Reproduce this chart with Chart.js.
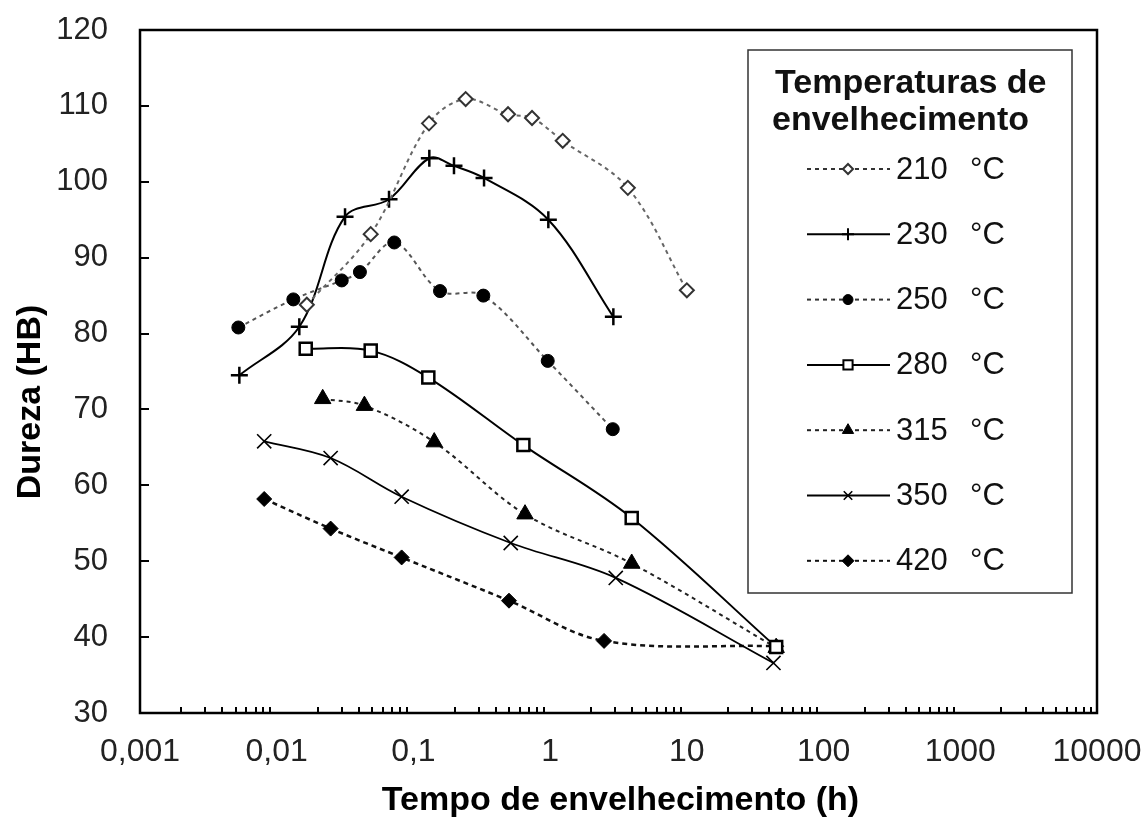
<!DOCTYPE html>
<html><head><meta charset="utf-8">
<script src="https://cdn.jsdelivr.net/npm/chart.js@4/dist/chart.umd.min.js"></script>
<style>html,body{margin:0;padding:0;background:#fff;}</style>
</head><body>
<canvas id="c" width="1147" height="822"></canvas>
<script>
// ---- data (time in hours, hardness HB) ----
const seriesNames = ['210', '230', '250', '280', '315', '350', '420'];
const t210 = [0.0166, 0.0487, 0.130, 0.241, 0.492, 0.737, 1.236, 3.70, 10.0];
const h210 = [83.8, 93.1, 107.7, 110.9, 108.9, 108.4, 105.4, 99.2, 85.7];
const t230 = [0.00533, 0.01463, 0.0316, 0.0663, 0.1307, 0.198, 0.3285, 0.97, 2.90];
const h230 = [74.5, 80.9, 95.4, 97.7, 103.1, 102.1, 100.5, 95.0, 82.2];
const t250 = [0.00524, 0.01323, 0.0299, 0.0406, 0.0724, 0.1565, 0.3246, 0.96, 2.87];
const h250 = [80.8, 84.5, 87.0, 88.1, 92.0, 85.6, 85.0, 76.4, 67.4];
const t280 = [0.0163, 0.0487, 0.1285, 0.637, 3.95, 45];
const h280 = [78.0, 77.75, 74.2, 65.3, 55.7, 38.7];
const t315 = [0.0217, 0.0438, 0.142, 0.655, 3.95, 45];
const h315 = [71.4, 70.5, 65.7, 56.2, 49.7, 38.6];
const t350 = [0.0081, 0.0248, 0.082, 0.515, 3.02, 43];
const h350 = [65.8, 63.6, 58.5, 52.4, 47.8, 36.6];
const t420 = [0.0081, 0.0248, 0.082, 0.5, 2.48, 45];
const h420 = [58.2, 54.3, 50.5, 44.8, 39.5, 38.8];
const xTickLabels = ['0,001', '0,01', '0,1', '1', '10', '100', '1000', '10000'];
const yMin = 30, yMax = 120, yStep = 10;
const legendTitle = ['Temperaturas de', 'envelhecimento'];
const unitLabel = '°C';
const xTitle = 'Tempo de envelhecimento (h)';
const yTitle = 'Dureza (HB)';

const FONT = "'Liberation Sans', Arial, sans-serif";
const pts = (t, h) => t.map((v, i) => ({x: v, y: h[i]}));

const styles = [
  {ps: 'rectRot', r: 7, bg: '#fff', bc: '#333', bw: 2, lc: '#666', dash: [4, 4], lw: 2, lr: 5},
  {ps: 'cross', r: 8.5, bg: '#000', bc: '#000', bw: 2.5, lc: '#000', dash: [], lw: 2, lr: 6},
  {ps: 'circle', r: 6.5, bg: '#000', bc: '#000', bw: 1, lc: '#555', dash: [4, 4], lw: 2, lr: 5},
  {ps: 'rect', r: 8.5, bg: '#fff', bc: '#000', bw: 2.5, lc: '#000', dash: [], lw: 2, lr: 6.5},
  {ps: 'triangle', r: 9.5, bg: '#000', bc: '#000', bw: 1, lc: '#222', dash: [4, 4], lw: 2, lr: 6.5},
  {ps: 'crossRot', r: 10, bg: '#000', bc: '#000', bw: 1.6, lc: '#000', dash: [], lw: 1.8, lr: 6},
  {ps: 'rectRot', r: 7.5, bg: '#000', bc: '#000', bw: 1, lc: '#111', dash: [5, 4], lw: 2.5, lr: 6}
];
const dataSets = [[t210, h210], [t230, h230], [t250, h250], [t280, h280], [t315, h315], [t350, h350], [t420, h420]];

const datasets = dataSets.map((d, i) => {
  const s = styles[i];
  return {
    label: seriesNames[i] + ' ' + unitLabel,
    data: pts(d[0], d[1]),
    borderColor: s.lc,
    borderWidth: s.lw,
    borderDash: s.dash,
    tension: 0.35,
    fill: false,
    pointStyle: s.ps,
    pointRadius: s.r,
    pointBackgroundColor: s.bg,
    pointBorderColor: s.bc,
    pointBorderWidth: s.bw,
    pointHoverRadius: s.r
  };
});

const decor = {
  id: 'decor',
  afterDraw(chart) {
    const ctx = chart.ctx, a = chart.chartArea;
    const xs = chart.scales.x, ys = chart.scales.y;
    ctx.save();
    ctx.setLineDash([]);
    ctx.strokeStyle = '#000';
    // minor x ticks (inside, upward)
    ctx.lineWidth = 2;
    for (let e = -3; e < 4; e++) {
      for (let d = 2; d <= 9; d++) {
        const px = Math.round(xs.getPixelForValue(d * Math.pow(10, e)));
        ctx.beginPath(); ctx.moveTo(px, a.bottom); ctx.lineTo(px, a.bottom - 6); ctx.stroke();
      }
    }
    // y ticks (inside)
    for (let v = yMin + yStep; v < yMax; v += yStep) {
      const py = Math.round(ys.getPixelForValue(v));
      ctx.beginPath(); ctx.moveTo(a.left, py); ctx.lineTo(a.left + 9, py); ctx.stroke();
    }
    // frame
    ctx.lineWidth = 2.5;
    ctx.strokeRect(a.left, a.top, a.right - a.left, a.bottom - a.top);

    // axis titles
    ctx.fillStyle = '#000';
    ctx.font = 'bold 34px ' + FONT;
    ctx.textAlign = 'center';
    ctx.textBaseline = 'alphabetic';
    ctx.fillText(xTitle, (a.left + a.right) / 2 + 2, 810);
    ctx.save();
    ctx.translate(40, 402);
    ctx.rotate(-Math.PI / 2);
    ctx.fillText(yTitle, 0, 0);
    ctx.restore();

    // legend
    const bx = 748, by = 50, bw = 324, bh = 543;
    ctx.fillStyle = '#fff';
    ctx.fillRect(bx, by, bw, bh);
    ctx.strokeStyle = '#333';
    ctx.lineWidth = 1.5;
    ctx.strokeRect(bx, by, bw, bh);
    ctx.fillStyle = '#111';
    ctx.font = 'bold 34px ' + FONT;
    ctx.textAlign = 'left';
    ctx.fillText(legendTitle[0], 775, 93);
    ctx.fillText(legendTitle[1], 772, 130);
    const drawPoint = Chart.helpers && Chart.helpers.drawPoint;
    for (let i = 0; i < seriesNames.length; i++) {
      const s = styles[i];
      const cy = 169 + i * 65.3;
      ctx.strokeStyle = s.lc === '#666' || s.lc === '#555' ? '#333' : s.lc;
      ctx.lineWidth = 2;
      ctx.setLineDash(s.dash.length ? [4, 4] : []);
      ctx.beginPath(); ctx.moveTo(807, cy); ctx.lineTo(890, cy); ctx.stroke();
      ctx.setLineDash([]);
      if (drawPoint) {
        ctx.fillStyle = s.bg; ctx.strokeStyle = s.bc; ctx.lineWidth = Math.min(s.bw, 2);
        drawPoint(ctx, {pointStyle: s.ps, radius: s.lr, borderWidth: Math.min(s.bw, 2), rotation: 0}, 848, cy);
      }
      ctx.fillStyle = '#111';
      ctx.font = '31px ' + FONT;
      ctx.textBaseline = 'middle';
      ctx.fillText(seriesNames[i], 896, cy + 1);
      ctx.fillText(unitLabel, 970, cy + 1);
      ctx.textBaseline = 'alphabetic';
    }
    ctx.restore();
  }
};

const noOverhang = s => { s.paddingTop = 0; s.paddingBottom = 0; s.paddingLeft = 0; s.paddingRight = 0; };

new Chart(document.getElementById('c'), {
  type: 'line',
  data: {datasets},
  options: {
    responsive: false,
    animation: false,
    devicePixelRatio: 1,
    layout: {padding: {top: 30, right: 50, left: 0, bottom: 0}},
    plugins: {legend: {display: false}, tooltip: {enabled: false}},
    scales: {
      x: {
        type: 'logarithmic', min: 0.001, max: 10000,
        grid: {display: false, drawTicks: false},
        border: {display: false},
        afterFit: s => { s.height = 109; noOverhang(s); },
        ticks: {
          autoSkip: false, maxRotation: 0, minRotation: 0, padding: 20,
          color: '#222', font: {family: FONT, size: 32},
          callback: v => {
            const l = Math.log10(v);
            if (Math.abs(l - Math.round(l)) < 1e-6) return xTickLabels[Math.round(l) + 3];
            return '';
          }
        }
      },
      y: {
        type: 'linear', min: yMin, max: yMax,
        grid: {display: false, drawTicks: false},
        border: {display: false},
        afterFit: s => { s.width = 140; noOverhang(s); },
        ticks: {stepSize: yStep, padding: 32, color: '#222', font: {family: FONT, size: 31}}
      }
    }
  },
  plugins: [decor]
});
</script>
</body></html>
